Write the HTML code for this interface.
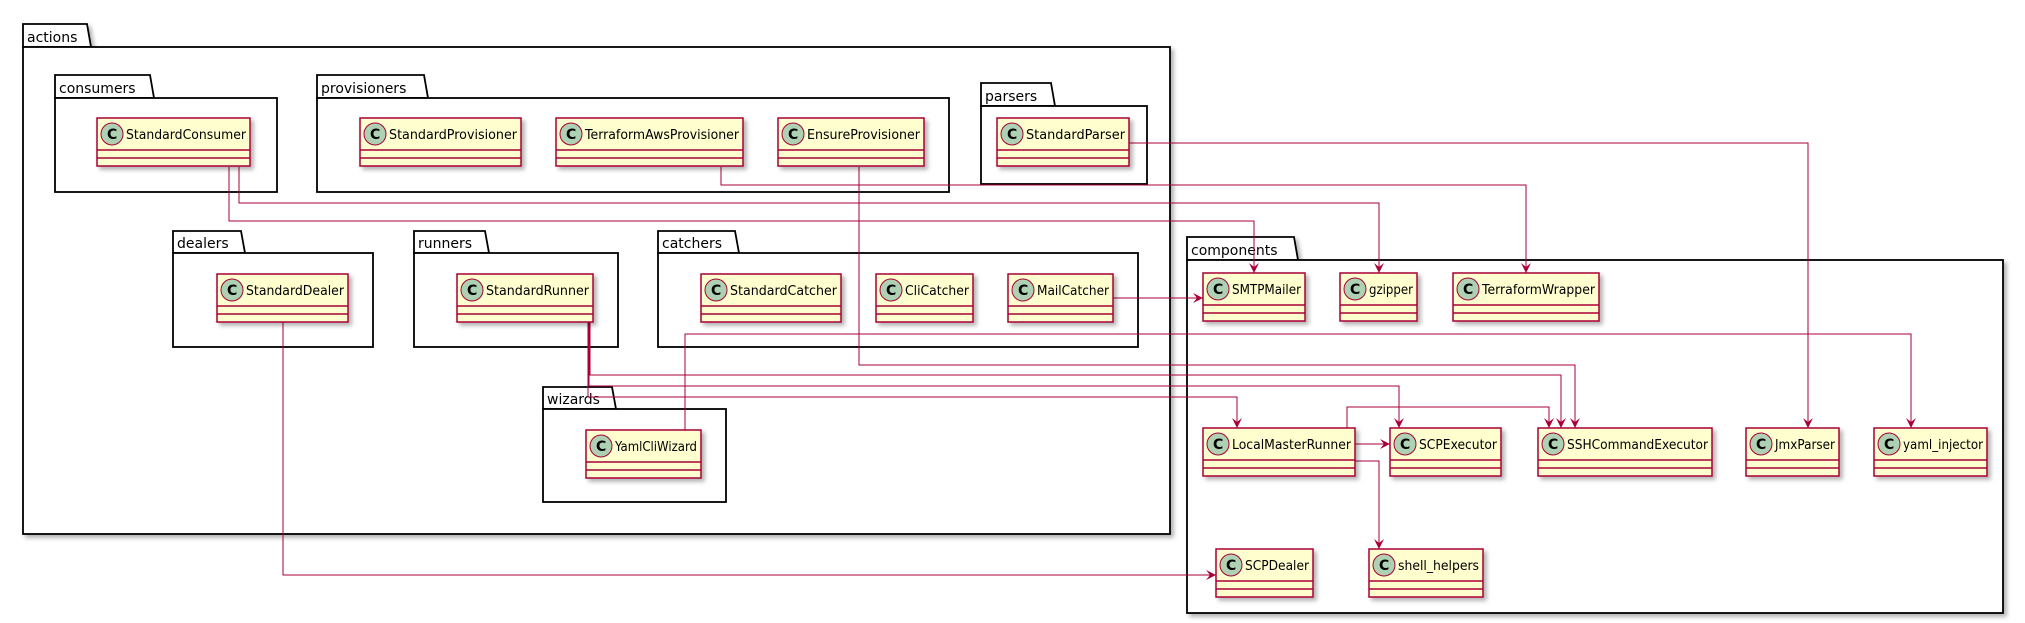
<!DOCTYPE html>
<html><head><meta charset="utf-8"><style>
html,body{margin:0;padding:0;background:#fff;}
svg{display:block;}
.pk{fill:#fff;stroke:#000;stroke-width:1.8;}
.pl{font-family:"DejaVu Sans","Liberation Sans",sans-serif;font-size:14px;font-weight:normal;fill:#000;}
.cb{fill:#FEFECE;stroke:#A80036;stroke-width:1.5;}
.cn{font-family:"DejaVu Sans","Liberation Sans",sans-serif;font-size:13px;fill:#000;}
.ci{fill:#ADD1B2;stroke:#A80036;stroke-width:1;}
.cc{font-family:"DejaVu Sans","Liberation Sans",sans-serif;font-size:14px;font-weight:bold;fill:#000;}
.e{fill:none;stroke:#A80036;stroke-width:1;}
</style></head><body>
<svg width="2025" height="623" viewBox="0 0 2025 623" xmlns="http://www.w3.org/2000/svg">
<defs>
<filter id="sh" x="-10%" y="-10%" width="130%" height="140%"><feDropShadow dx="3" dy="3" stdDeviation="2" flood-color="#000" flood-opacity="0.3"/></filter>
<marker id="ar" markerWidth="12" markerHeight="12" refX="10" refY="5" orient="auto" markerUnits="userSpaceOnUse"><path d="M0,0 L10,5 L0,10 L4,5 Z" fill="#A80036"/></marker>
</defs>

<g filter="url(#sh)">
<path class="pk" d="M23,47 L23,24 L87,24 L91,47 Z"/><rect class="pk" x="23" y="47" width="1147" height="487"/>
<path class="pk" d="M55,98 L55,75 L150,75 L154,98 Z"/><rect class="pk" x="55" y="98" width="222" height="94"/>
<path class="pk" d="M317,98 L317,75 L424,75 L428,98 Z"/><rect class="pk" x="317" y="98" width="632" height="94"/>
<path class="pk" d="M981,106 L981,83 L1051,83 L1055,106 Z"/><rect class="pk" x="981" y="106" width="166" height="78"/>
<path class="pk" d="M173,253 L173,231 L241,231 L245,253 Z"/><rect class="pk" x="173" y="253" width="200" height="94"/>
<path class="pk" d="M414,253 L414,231 L485,231 L489,253 Z"/><rect class="pk" x="414" y="253" width="204" height="94"/>
<path class="pk" d="M658,253 L658,231 L735,231 L739,253 Z"/><rect class="pk" x="658" y="253" width="480" height="94"/>
<path class="pk" d="M543,409 L543,387 L612,387 L616,409 Z"/><rect class="pk" x="543" y="409" width="183" height="93"/>
<path class="pk" d="M1187,260 L1187,237 L1294,237 L1298,260 Z"/><rect class="pk" x="1187" y="260" width="816" height="353"/>
</g>
<text class="pl" x="27" y="42">actions</text>
<text class="pl" x="59" y="93">consumers</text>
<text class="pl" x="321" y="93">provisioners</text>
<text class="pl" x="985" y="101">parsers</text>
<text class="pl" x="177" y="248">dealers</text>
<text class="pl" x="418" y="248">runners</text>
<text class="pl" x="662" y="248">catchers</text>
<text class="pl" x="547" y="404">wizards</text>
<text class="pl" x="1191" y="255">components</text>

<polyline class="e" marker-end="url(#ar)" points="1129,143 1808,143 1808,428"/>
<polyline class="e" marker-end="url(#ar)" points="721,167 721,185 1526,185 1526,273"/>
<polyline class="e" marker-end="url(#ar)" points="239,167 239,203 1379,203 1379,273"/>
<polyline class="e" marker-end="url(#ar)" points="229,167 229,221 1254,221 1254,273"/>
<polyline class="e" marker-end="url(#ar)" points="859,167 859,365 1575,365 1575,428"/>
<polyline class="e" marker-end="url(#ar)" points="590,322 590,375 1561,375 1561,428"/>
<polyline class="e" marker-end="url(#ar)" points="589,322 589,386 1399,386 1399,428"/>
<polyline class="e" marker-end="url(#ar)" points="588,322 588,397 1237,397 1237,428"/>
<polyline class="e" marker-end="url(#ar)" points="685,430 685,334 1911,334 1911,428"/>
<polyline class="e" marker-end="url(#ar)" points="1113,298 1203,298"/>
<polyline class="e" marker-end="url(#ar)" points="283,322 283,575 1216,575"/>
<polyline class="e" marker-end="url(#ar)" points="1347,428 1347,407 1549,407 1549,428"/>
<polyline class="e" marker-end="url(#ar)" points="1355,444 1390,444"/>
<polyline class="e" marker-end="url(#ar)" points="1355,461 1379,461 1379,549"/>

<g filter="url(#sh)">
<rect class="cb" x="97" y="118" width="153" height="48"/>
<rect class="cb" x="360" y="118" width="161" height="48"/>
<rect class="cb" x="556" y="118" width="187" height="48"/>
<rect class="cb" x="778" y="118" width="146" height="48"/>
<rect class="cb" x="997" y="118" width="132" height="48"/>
<rect class="cb" x="217" y="274" width="131" height="48"/>
<rect class="cb" x="457" y="274" width="136" height="48"/>
<rect class="cb" x="701" y="274" width="140" height="48"/>
<rect class="cb" x="876" y="274" width="97" height="48"/>
<rect class="cb" x="1008" y="274" width="105" height="48"/>
<rect class="cb" x="586" y="430" width="115" height="48"/>
<rect class="cb" x="1203" y="273" width="102" height="48"/>
<rect class="cb" x="1340" y="273" width="77" height="48"/>
<rect class="cb" x="1453" y="273" width="146" height="48"/>
<rect class="cb" x="1203" y="428" width="152" height="48"/>
<rect class="cb" x="1390" y="428" width="111" height="48"/>
<rect class="cb" x="1538" y="428" width="174" height="48"/>
<rect class="cb" x="1746" y="428" width="93" height="48"/>
<rect class="cb" x="1874" y="428" width="113" height="48"/>
<rect class="cb" x="1216" y="549" width="97" height="48"/>
<rect class="cb" x="1369" y="549" width="114" height="48"/>
</g>
<g stroke="#A80036" stroke-width="1.5">
<path d="M97,150H250M97,158H250"/>
<path d="M360,150H521M360,158H521"/>
<path d="M556,150H743M556,158H743"/>
<path d="M778,150H924M778,158H924"/>
<path d="M997,150H1129M997,158H1129"/>
<path d="M217,306H348M217,314H348"/>
<path d="M457,306H593M457,314H593"/>
<path d="M701,306H841M701,314H841"/>
<path d="M876,306H973M876,314H973"/>
<path d="M1008,306H1113M1008,314H1113"/>
<path d="M586,462H701M586,470H701"/>
<path d="M1203,305H1305M1203,313H1305"/>
<path d="M1340,305H1417M1340,313H1417"/>
<path d="M1453,305H1599M1453,313H1599"/>
<path d="M1203,460H1355M1203,468H1355"/>
<path d="M1390,460H1501M1390,468H1501"/>
<path d="M1538,460H1712M1538,468H1712"/>
<path d="M1746,460H1839M1746,468H1839"/>
<path d="M1874,460H1987M1874,468H1987"/>
<path d="M1216,581H1313M1216,589H1313"/>
<path d="M1369,581H1483M1369,589H1483"/>
</g>
<g>
<circle class="ci" cx="112" cy="134" r="11"/><text class="cc" x="107" y="139">C</text><text class="cn" x="126" y="139" textLength="120" lengthAdjust="spacingAndGlyphs">StandardConsumer</text>
<circle class="ci" cx="375" cy="134" r="11"/><text class="cc" x="370" y="139">C</text><text class="cn" x="389" y="139" textLength="128" lengthAdjust="spacingAndGlyphs">StandardProvisioner</text>
<circle class="ci" cx="571" cy="134" r="11"/><text class="cc" x="566" y="139">C</text><text class="cn" x="585" y="139" textLength="154" lengthAdjust="spacingAndGlyphs">TerraformAwsProvisioner</text>
<circle class="ci" cx="793" cy="134" r="11"/><text class="cc" x="788" y="139">C</text><text class="cn" x="807" y="139" textLength="113" lengthAdjust="spacingAndGlyphs">EnsureProvisioner</text>
<circle class="ci" cx="1012" cy="134" r="11"/><text class="cc" x="1007" y="139">C</text><text class="cn" x="1026" y="139" textLength="99" lengthAdjust="spacingAndGlyphs">StandardParser</text>
<circle class="ci" cx="232" cy="290" r="11"/><text class="cc" x="227" y="295">C</text><text class="cn" x="246" y="295" textLength="98" lengthAdjust="spacingAndGlyphs">StandardDealer</text>
<circle class="ci" cx="472" cy="290" r="11"/><text class="cc" x="467" y="295">C</text><text class="cn" x="486" y="295" textLength="103" lengthAdjust="spacingAndGlyphs">StandardRunner</text>
<circle class="ci" cx="716" cy="290" r="11"/><text class="cc" x="711" y="295">C</text><text class="cn" x="730" y="295" textLength="107" lengthAdjust="spacingAndGlyphs">StandardCatcher</text>
<circle class="ci" cx="891" cy="290" r="11"/><text class="cc" x="886" y="295">C</text><text class="cn" x="905" y="295" textLength="64" lengthAdjust="spacingAndGlyphs">CliCatcher</text>
<circle class="ci" cx="1023" cy="290" r="11"/><text class="cc" x="1018" y="295">C</text><text class="cn" x="1037" y="295" textLength="72" lengthAdjust="spacingAndGlyphs">MailCatcher</text>
<circle class="ci" cx="601" cy="446" r="11"/><text class="cc" x="596" y="451">C</text><text class="cn" x="615" y="451" textLength="82" lengthAdjust="spacingAndGlyphs">YamlCliWizard</text>
<circle class="ci" cx="1218" cy="289" r="11"/><text class="cc" x="1213" y="294">C</text><text class="cn" x="1232" y="294" textLength="69" lengthAdjust="spacingAndGlyphs">SMTPMailer</text>
<circle class="ci" cx="1355" cy="289" r="11"/><text class="cc" x="1350" y="294">C</text><text class="cn" x="1369" y="294" textLength="44" lengthAdjust="spacingAndGlyphs">gzipper</text>
<circle class="ci" cx="1468" cy="289" r="11"/><text class="cc" x="1463" y="294">C</text><text class="cn" x="1482" y="294" textLength="113" lengthAdjust="spacingAndGlyphs">TerraformWrapper</text>
<circle class="ci" cx="1218" cy="444" r="11"/><text class="cc" x="1213" y="449">C</text><text class="cn" x="1232" y="449" textLength="119" lengthAdjust="spacingAndGlyphs">LocalMasterRunner</text>
<circle class="ci" cx="1405" cy="444" r="11"/><text class="cc" x="1400" y="449">C</text><text class="cn" x="1419" y="449" textLength="78" lengthAdjust="spacingAndGlyphs">SCPExecutor</text>
<circle class="ci" cx="1553" cy="444" r="11"/><text class="cc" x="1548" y="449">C</text><text class="cn" x="1567" y="449" textLength="141" lengthAdjust="spacingAndGlyphs">SSHCommandExecutor</text>
<circle class="ci" cx="1761" cy="444" r="11"/><text class="cc" x="1756" y="449">C</text><text class="cn" x="1775" y="449" textLength="60" lengthAdjust="spacingAndGlyphs">JmxParser</text>
<circle class="ci" cx="1889" cy="444" r="11"/><text class="cc" x="1884" y="449">C</text><text class="cn" x="1903" y="449" textLength="80" lengthAdjust="spacingAndGlyphs">yaml_injector</text>
<circle class="ci" cx="1231" cy="565" r="11"/><text class="cc" x="1226" y="570">C</text><text class="cn" x="1245" y="570" textLength="64" lengthAdjust="spacingAndGlyphs">SCPDealer</text>
<circle class="ci" cx="1384" cy="565" r="11"/><text class="cc" x="1379" y="570">C</text><text class="cn" x="1398" y="570" textLength="81" lengthAdjust="spacingAndGlyphs">shell_helpers</text>
</g>
</svg>
</body></html>
